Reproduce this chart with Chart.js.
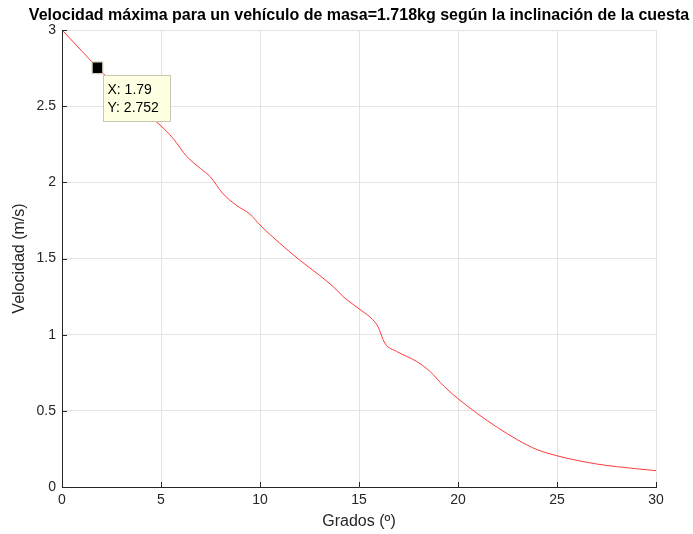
<!DOCTYPE html>
<html>
<head>
<meta charset="utf-8">
<script src="https://cdn.jsdelivr.net/npm/chart.js@4"></script>
<style>
  html, body { margin: 0; padding: 0; background: #fff; }
  #wrap { width: 693px; height: 534px; }
</style>
</head>
<body>
<div id="wrap"><canvas id="chart"></canvas></div>
<script>
const grados = [0, 1, 1.79, 3, 4, 5, 5.6, 6.3, 7, 7.5, 8.1, 8.8, 9.5, 10, 11, 12, 13, 13.7, 14.2, 15, 15.6, 15.95, 16.3, 16.9, 17.9, 18.6, 19.3, 20, 21, 22, 23, 24, 25, 26, 27, 28, 29, 30];
const velocidad = [3.0, 2.862, 2.752, 2.6, 2.48, 2.37, 2.29, 2.17, 2.09, 2.035, 1.93, 1.85, 1.79, 1.72, 1.6, 1.49, 1.39, 1.315, 1.25, 1.17, 1.11, 1.055, 0.945, 0.89, 0.825, 0.757, 0.66, 0.58, 0.48, 0.39, 0.31, 0.245, 0.205, 0.175, 0.151, 0.134, 0.12, 0.107];
const xTicks = [0, 5, 10, 15, 20, 25, 30];
const yTicks = [0, 0.5, 1, 1.5, 2, 2.5, 3];
const tipX = 1.79;
const tipY = 2.752;
const titulo = 'Velocidad máxima para un vehículo de masa=1.718kg según la inclinación de la cuesta';

const FONT = '"Liberation Sans", Arial, Helvetica, sans-serif';
const AXIS = '#262626';

// draws the title, inward ticks and the data tip
const extras = {
  id: 'extras',
  afterDatasetsDraw(chart) {
    const { ctx, chartArea, scales } = chart;
    const x = scales.x, y = scales.y;
    ctx.save();

    // inward ticks
    ctx.strokeStyle = AXIS;
    ctx.lineWidth = 1;
    xTicks.forEach(v => {
      const px = Math.round(x.getPixelForValue(v)) + 0.5;
      ctx.beginPath();
      ctx.moveTo(px, chartArea.bottom);
      ctx.lineTo(px, chartArea.bottom - 5);
      ctx.stroke();
    });
    yTicks.forEach(v => {
      const py = Math.round(y.getPixelForValue(v)) + 0.5;
      ctx.beginPath();
      ctx.moveTo(chartArea.left, py);
      ctx.lineTo(chartArea.left + 5, py);
      ctx.stroke();
    });

    // title centred on the plot area
    ctx.fillStyle = '#000';
    ctx.font = 'bold 16px ' + FONT;
    ctx.textAlign = 'center';
    ctx.textBaseline = 'middle';
    ctx.fillText(titulo, (chartArea.left + chartArea.right) / 2, 16);

    // data tip
    const mx = x.getPixelForValue(tipX);
    const my = y.getPixelForValue(tipY);
    ctx.fillStyle = '#000';
    ctx.strokeStyle = '#d8d8c0';
    ctx.fillRect(mx - 5, my - 5.5, 10, 11);
    ctx.strokeRect(mx - 5.5, my - 6, 11, 12);

    const bx = Math.round(mx + 6) + 0.5, by = Math.round(my + 7) + 0.5;
    ctx.fillStyle = '#ffffe1';
    ctx.fillRect(bx, by, 67, 46);
    ctx.strokeStyle = '#c8c8b4';
    ctx.strokeRect(bx, by, 67, 46);
    ctx.fillStyle = '#000';
    ctx.font = '14px ' + FONT;
    ctx.textAlign = 'left';
    ctx.fillText('X: ' + tipX, bx + 4, by + 15);
    ctx.fillText('Y: ' + tipY, bx + 4, by + 33);
    ctx.restore();
  }
};

new Chart(document.getElementById('chart'), {
  type: 'line',
  data: {
    datasets: [{
      data: grados.map((g, i) => ({ x: g, y: velocidad[i] })),
      borderColor: '#ff3a3a',
      borderWidth: 1,
      pointRadius: 0,
      cubicInterpolationMode: 'monotone',
      fill: false
    }]
  },
  options: {
    responsive: true,
    maintainAspectRatio: false,
    animation: false,
    layout: { padding: { top: 30, right: 37, left: 0, bottom: 0 } },
    plugins: {
      legend: { display: false },
      tooltip: { enabled: false },
      title: { display: false }
    },
    scales: {
      x: {
        type: 'linear',
        min: 0,
        max: 30,
        afterBuildTicks: s => { s.ticks = xTicks.map(v => ({ value: v })); },
        afterFit: s => { s.height = 47; },
        grid: { color: '#e3e3e3', drawTicks: false },
        border: { color: AXIS, width: 1 },
        ticks: { color: AXIS, font: { family: FONT, size: 14 }, padding: 5, maxRotation: 0, callback: v => String(v) },
        title: { display: true, text: 'Grados (º)', color: AXIS, font: { family: FONT, size: 16 }, padding: { top: 0, bottom: 3 } }
      },
      y: {
        type: 'linear',
        min: 0,
        max: 3,
        afterBuildTicks: s => { s.ticks = yTicks.map(v => ({ value: v })); },
        afterFit: s => { s.width = 62; },
        grid: { color: '#e3e3e3', drawTicks: false },
        border: { color: AXIS, width: 1 },
        ticks: { color: AXIS, font: { family: FONT, size: 14 }, padding: 6, callback: v => String(v) },
        title: { display: true, text: 'Velocidad (m/s)', color: AXIS, font: { family: FONT, size: 16 }, padding: { top: 10, bottom: 0 } }
      }
    }
  },
  plugins: [extras]
});
</script>
</body>
</html>
